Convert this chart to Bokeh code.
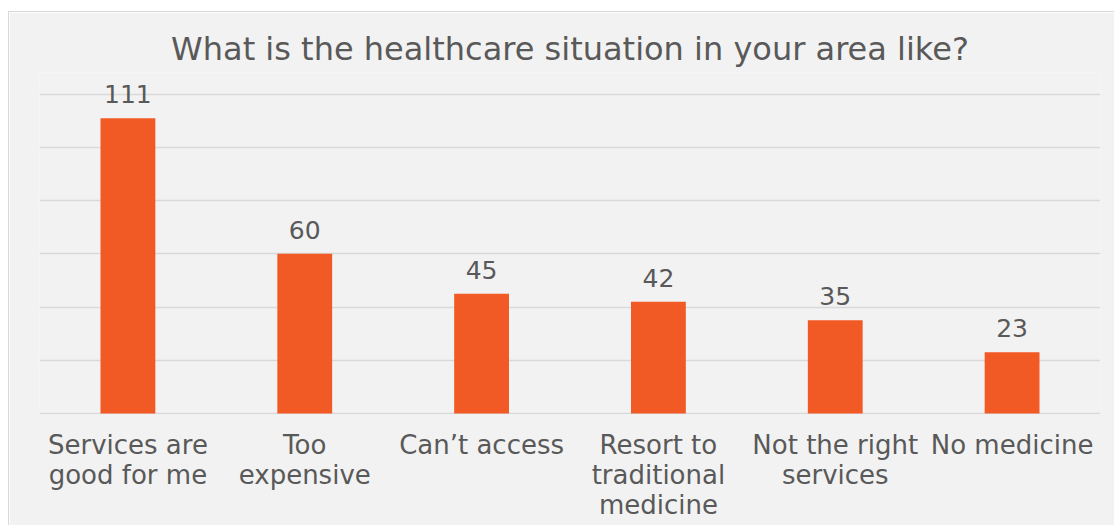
from bokeh.plotting import figure
from bokeh.models import ColumnDataSource, FactorRange, Range1d, FixedTicker, Spacer
from bokeh.layouts import column, row
from bokeh.core.properties import value
from bokeh.embed import file_html
from bokeh.resources import INLINE

categories = ["Services are\ngood for me", "Too\nexpensive", "Can\u2019t access",
              "Resort to\ntraditional\nmedicine", "Not the right\nservices", "No medicine"]
counts = [111, 60, 45, 42, 35, 23]
grid_ticks = [0, 20, 40, 60, 80, 100, 120]

FONT = "DejaVu Sans"
TXT = "#595959"
BG = "#f2f2f2"

src = ColumnDataSource(dict(cat=categories, val=counts, lab=[str(v) for v in counts]))

p = figure(x_range=FactorRange(factors=categories, range_padding=0),
           y_range=Range1d(-0.4, 128.2),
           width=1106, height=514, output_backend="svg", toolbar_location=None,
           min_border_left=30, min_border_right=15, min_border_top=60, min_border_bottom=112,
           title="What is the healthcare situation in your area like?")

p.background_fill_color = BG
p.border_fill_color = BG
p.outline_line_color = None
p.styles = {"border-left": "1px solid #d9d9d9", "border-top": "1px solid #d9d9d9"}

p.title.align = "center"
p.title.text_font = FONT
p.title.text_font_size = "32px"
p.title.text_font_style = "normal"
p.title.text_color = TXT

p.vbar(x="cat", top="val", width=0.31, source=src, color="#F15A24", line_color=None)
p.text(x="cat", y="val", text="lab", source=src, text_align="center",
       text_baseline="alphabetic", y_offset=-24, text_font=value(FONT),
       text_font_size="25px", text_color=TXT)

p.yaxis.visible = False
p.yaxis.ticker = FixedTicker(ticks=grid_ticks)
p.ygrid.ticker = FixedTicker(ticks=grid_ticks)
p.ygrid.grid_line_color = "#d9d9d9"
p.ygrid.grid_line_width = 1.5
p.xgrid.grid_line_color = None

xa = p.xaxis[0]
xa.axis_line_color = None
xa.major_tick_line_color = None
xa.minor_tick_line_color = None
xa.major_label_standoff = 9
xa.major_label_text_font = FONT
xa.major_label_text_font_size = "26px"
xa.major_label_text_line_height = 1.0
xa.major_label_text_color = TXT
xa.major_label_text_align = "center"

layout = column(Spacer(height=11, width=1114), row(Spacer(width=8, height=514), p))
open("out.html", "w").write(file_html(layout, INLINE))
